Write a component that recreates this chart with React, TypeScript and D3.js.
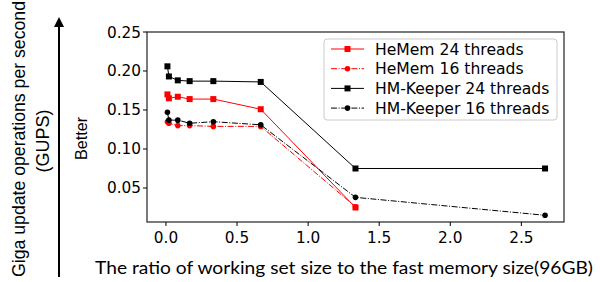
import * as d3 from "d3";
import React from "react";

// x = working set size / 96GB fast memory
const ratios = [0.0104, 0.0208, 0.0833, 0.1667, 0.3333, 0.6667, 1.3333, 2.6667];

const hememT24 = [0.170, 0.165, 0.167, 0.164, 0.164, 0.151, 0.025];
const hememT16 = [0.135, 0.133, 0.130, 0.130, 0.129, 0.129, 0.026];
const keeperT24 = [0.206, 0.193, 0.188, 0.187, 0.187, 0.186, 0.075, 0.075];
const keeperT16 = [0.147, 0.137, 0.137, 0.133, 0.135, 0.131, 0.038, 0.015];

const seriesNames = ["HeMem 24 threads", "HeMem 16 threads", "HM-Keeper 24 threads", "HM-Keeper 16 threads"];
const xTicks = [0, 0.5, 1, 1.5, 2, 2.5];
const yTicks = [0.05, 0.1, 0.15, 0.2, 0.25];

const series = [
  { name: seriesNames[0], values: hememT24, color: "#ff0000", dash: null, marker: "square" },
  { name: seriesNames[1], values: hememT16, color: "#ff0000", dash: "6,1.6,1,1.6", marker: "circle" },
  { name: seriesNames[2], values: keeperT24, color: "#000000", dash: null, marker: "square" },
  { name: seriesNames[3], values: keeperT16, color: "#000000", dash: "6,1.6,1,1.6", marker: "circle" },
];

const W = 600;
const H = 282;
const plot = { left: 147, right: 564, top: 32, bottom: 222 };
const tickFont = "DejaVu Sans, sans-serif";
const labelFont = "Liberation Sans, Arial, sans-serif";

function Marker({ type, x, y, color }: { type: string; x: number; y: number; color: string }) {
  if (type === "square") return <rect x={x - 3} y={y - 3} width={6} height={6} fill={color} />;
  return <circle cx={x} cy={y} r={2.8} fill={color} />;
}

export default function App() {
  const x = d3.scaleLinear().domain([-0.1333, 2.8]).range([plot.left, plot.right]);
  const y = d3.scaleLinear().domain([0.0064, 0.25]).range([plot.bottom, plot.top]);
  const line = d3
    .line<[number, number]>()
    .x((d) => x(d[0]))
    .y((d) => y(d[1]));

  const legX = 324;
  const legY = 39;

  return (
    <svg width={W} height={H} style={{ position: "absolute", left: 0, top: 0 }}>
      <rect width={W} height={H} fill="#fff" />
      {/* data lines */}
      {series.map((s) => {
        const pts = s.values.map((v, i) => [ratios[i], v] as [number, number]);
        return (
          <g key={s.name}>
            <path d={line(pts) || ""} fill="none" stroke={s.color} strokeWidth={1} strokeDasharray={s.dash || undefined} />
            {pts.map((p, i) => (
              <Marker key={i} type={s.marker} x={x(p[0])} y={y(p[1])} color={s.color} />
            ))}
          </g>
        );
      })}
      {/* frame */}
      <rect
        x={plot.left}
        y={plot.top}
        width={plot.right - plot.left}
        height={plot.bottom - plot.top}
        fill="none"
        stroke="#222"
        strokeWidth={1.2}
      />
      {/* ticks */}
      {xTicks.map((t) => (
        <g key={"x" + t}>
          <line x1={x(t)} x2={x(t)} y1={plot.bottom} y2={plot.bottom + 4} stroke="#000" />
          <text x={x(t)} y={plot.bottom + 21} textAnchor="middle" fontFamily={tickFont} fontSize={15.3}>
            {t.toFixed(1)}
          </text>
        </g>
      ))}
      {yTicks.map((t) => (
        <g key={"y" + t}>
          <line x1={plot.left - 4} x2={plot.left} y1={y(t)} y2={y(t)} stroke="#000" />
          <text x={plot.left - 6} y={y(t) + 5.5} textAnchor="end" fontFamily={tickFont} fontSize={15.3}>
            {t.toFixed(2)}
          </text>
        </g>
      ))}
      {/* legend */}
      <rect x={legX} y={legY} width={233} height={81} rx={3} fill="#fff" fillOpacity={0.8} stroke="#cccccc" />
      {series.map((s, i) => {
        const ly = legY + 10 + i * 19.7;
        return (
          <g key={"l" + s.name}>
            <line x1={legX + 7} x2={legX + 40} y1={ly} y2={ly} stroke={s.color} strokeWidth={1} strokeDasharray={s.dash || undefined} />
            <Marker type={s.marker} x={legX + 23.5} y={ly} color={s.color} />
            <text x={legX + 51} y={ly + 5.5} fontFamily={tickFont} fontSize={15.6}>
              {s.name}
            </text>
          </g>
        );
      })}
      {/* axis labels */}
      <text
        transform="translate(25,139) rotate(-90)"
        textAnchor="middle"
        fontFamily={labelFont}
        fontSize={17.7}
        textLength={276}
        lengthAdjust="spacingAndGlyphs"
      >
        Giga update operations per second
      </text>
      <text transform="translate(49,141) rotate(-90)" textAnchor="middle" fontFamily={labelFont} fontSize={18}>
        (GUPS)
      </text>
      <defs>
        <marker id="arr" viewBox="0 0 10 10" refX={5} refY={5} markerWidth={5} markerHeight={5} orient="auto">
          <path d="M0,0 L10,5 L0,10 z" fill="#000" />
        </marker>
      </defs>
      <line x1={59} y1={277} x2={59} y2={22} stroke="#000" strokeWidth={2} markerEnd="url(#arr)" />
      <text
        transform="translate(87,138.5) rotate(-90)"
        textAnchor="middle"
        fontFamily={labelFont}
        fontSize={17}
        textLength={43}
        lengthAdjust="spacingAndGlyphs"
      >
        Better
      </text>
      <text
        x={95}
        y={274}
        fontFamily="Lato, Open Sans, sans-serif"
        fontSize={18}
        textLength={498}
        lengthAdjust="spacingAndGlyphs"
      >
        The ratio of working set size to the fast memory size(96GB)
      </text>
    </svg>
  );
}
